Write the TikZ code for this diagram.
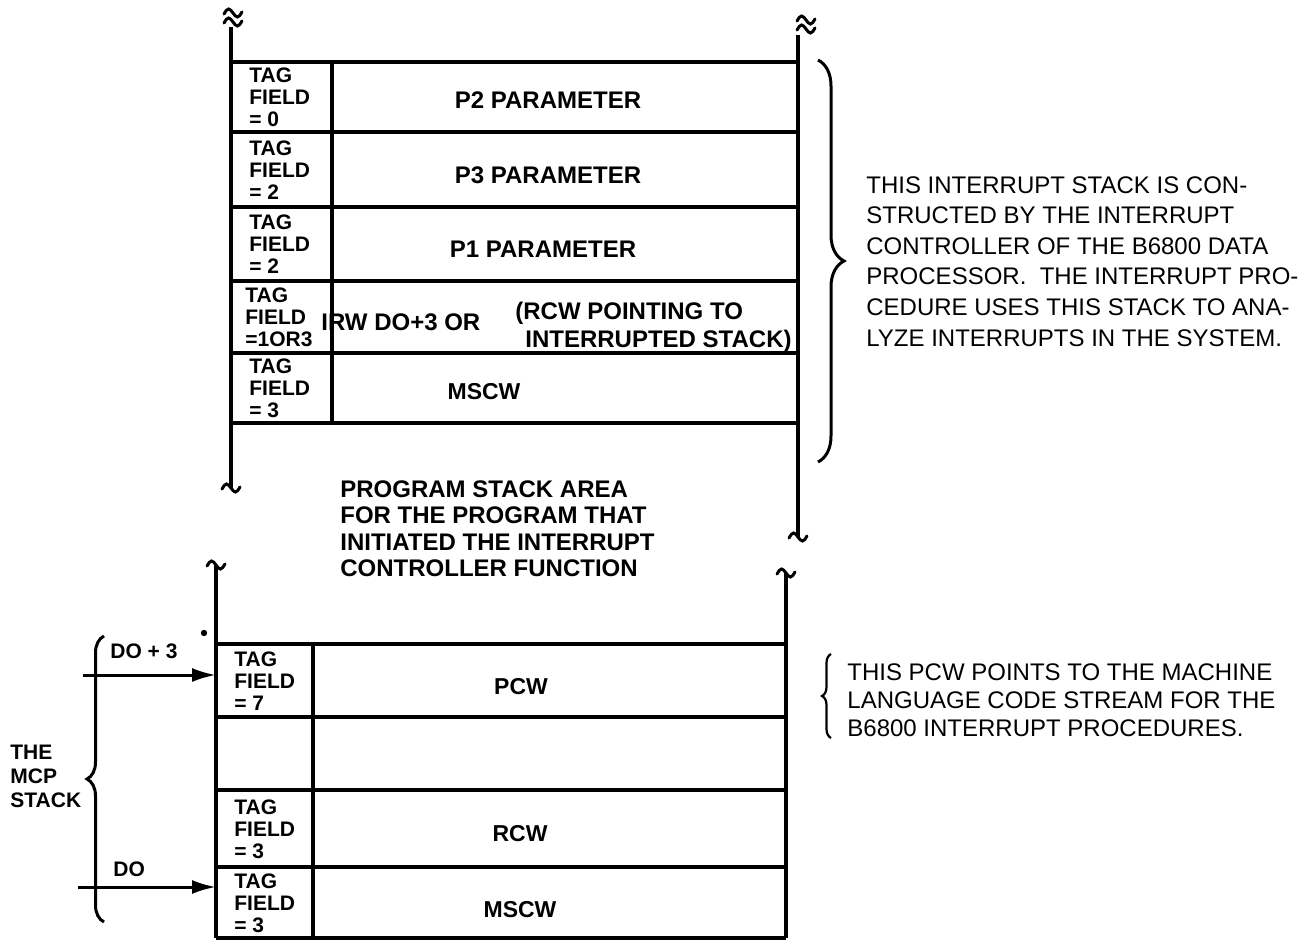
\documentclass[tikz,border=0pt]{standalone}
\usepackage{fontspec}
\setmainfont{Liberation Sans}
\usetikzlibrary{decorations.pathreplacing,arrows.meta}
\newcommand\brkmark[2]{\draw[brk] (#1-9,#2+1) sin (#1-4.5,#2-4) cos (#1,#2) sin (#1+4.5,#2+4) cos (#1+9,#2-1);}
\tikzset{
 wall/.style={line width=1.7pt},
 rowline/.style={line width=1.8pt},
 lbl/.style={font=\fontsize{12}{14}\selectfont\bfseries, inner sep=0pt},
 tagtxt/.style={font=\fontsize{10.5}{11}\selectfont\bfseries, align=left, anchor=west, inner sep=0pt},
 desc/.style={font=\fontsize{12}{15.3}\selectfont, align=left, anchor=north west, inner sep=0pt},
 brk/.style={line width=1.5pt, line cap=round},
 ptr/.style={-{Latex[length=12pt,width=7pt]}, line width=1.5pt},
 brc/.style={decorate, line width=1.5pt},
}
\begin{document}
\begin{tikzpicture}[x=0.5pt,y=-0.5pt]
\useasboundingbox (0,0) rectangle (1312,947);
% ---------- upper stack ----------
\brkmark{233}{13}
\brkmark{233}{22}
\brkmark{806}{20}
\brkmark{806}{29}
\draw[wall] (231,27) -- (231,488);
\draw[wall] (798,35) -- (798,537);
\brkmark{231}{488}
\brkmark{798}{537}
\foreach \yy in {62,132,207,281,353,423}{\draw[rowline] (231,\yy) -- (798,\yy);}
\draw[wall] (332,62) -- (332,423);
\node[tagtxt] (t1) at (249,97) {TAG\\FIELD\\= 0};
\node[tagtxt] (t2) at (249,170) {TAG\\FIELD\\= 2};
\node[tagtxt] (t3) at (249,244) {TAG\\FIELD\\= 2};
\node[tagtxt] (t4) at (245,317) {TAG\\FIELD\\=1OR3};
\node[tagtxt] (t5) at (249,388) {TAG\\FIELD\\= 3};
\node[lbl] (p2) at (548,100) {P2 PARAMETER};
\node[lbl] (p3) at (548,175) {P3 PARAMETER};
\node[lbl] (p1) at (543,249) {P1 PARAMETER};
\node[lbl,anchor=west] (irwa) at (321,322) {IRW DO+3 OR};
\node[lbl,align=left,anchor=north west,font=\fontsize{12}{14}\selectfont\bfseries] (irwb) at (515,302) {(RCW POINTING TO\\\hspace*{5pt}INTERRUPTED STACK)};
\node[lbl,font=\fontsize{11.5}{14}\selectfont\bfseries] (ms1) at (484,392) {MSCW};
% program area text
\node[lbl,align=left,anchor=north west,font=\fontsize{12}{13.3}\selectfont\bfseries] (prog) at (340,480) {PROGRAM STACK AREA\\FOR THE PROGRAM THAT\\INITIATED THE INTERRUPT\\CONTROLLER FUNCTION};
% ---------- lower stack ----------
\brkmark{216}{565}
\brkmark{786}{573}
\draw[wall] (216,565) -- (216,938);
\draw[wall] (786,573) -- (786,938);
\foreach \yy in {644,717,790,867,938}{\draw[rowline] (216,\yy) -- (786,\yy);}
\draw[wall] (313,644) -- (313,938);
\fill (204,633) circle[radius=1.6pt];
\node[tagtxt] (t6) at (234,681) {TAG\\FIELD\\= 7};
\node[tagtxt] (t7) at (234,829) {TAG\\FIELD\\= 3};
\node[tagtxt] (t8) at (234,903) {TAG\\FIELD\\= 3};
\node[lbl,font=\fontsize{11.5}{14}\selectfont\bfseries] (pcw) at (521,687) {PCW};
\node[lbl,font=\fontsize{11.5}{14}\selectfont\bfseries] (rcw) at (520,834) {RCW};
\node[lbl,font=\fontsize{11.5}{14}\selectfont\bfseries] (ms2) at (520,910) {MSCW};
% pointers
\node[tagtxt] (do3) at (110,651) {DO + 3};
\node[tagtxt] (do) at (113,869) {DO};
\coordinate (a1s) at (83,675);
\coordinate (a1e) at (216,675);
\coordinate (a2s) at (78,887);
\coordinate (a2e) at (216,887);
\draw[ptr] (a1s) -- (a1e);
\draw[ptr] (a2s) -- (a2e);
\node[tagtxt,anchor=north west,font=\fontsize{10.5}{11.8}\selectfont\bfseries] (mcp) at (10,745) {THE\\MCP\\STACK};
% braces
\coordinate (lb1) at (104,922);
\coordinate (lb2) at (104,636);
\draw[brc,decoration={brace,amplitude=8.5pt}] (lb1) -- (lb2);
\coordinate (ub1) at (818,60);
\coordinate (ub2) at (818,462);
\draw[brc,decoration={brace,amplitude=13pt}] (ub1) -- (ub2);
\coordinate (sb1) at (831,738);
\coordinate (sb2) at (831,654);
\draw[brc,line width=1.1pt,decoration={brace,amplitude=4.5pt}] (sb1) -- (sb2);
% descriptions
\node[desc] (d1) at (866,176) {THIS INTERRUPT STACK IS CON-\\STRUCTED BY THE INTERRUPT\\CONTROLLER OF THE B6800 DATA\\PROCESSOR.\ \ THE INTERRUPT PRO-\\CEDURE USES THIS STACK TO ANA-\\LYZE INTERRUPTS IN THE SYSTEM.};
\node[desc,font=\fontsize{12}{14}\selectfont] (d2) at (847,663) {THIS PCW POINTS TO THE MACHINE\\LANGUAGE CODE STREAM FOR THE\\B6800 INTERRUPT PROCEDURES.};
\end{tikzpicture}
\end{document}
